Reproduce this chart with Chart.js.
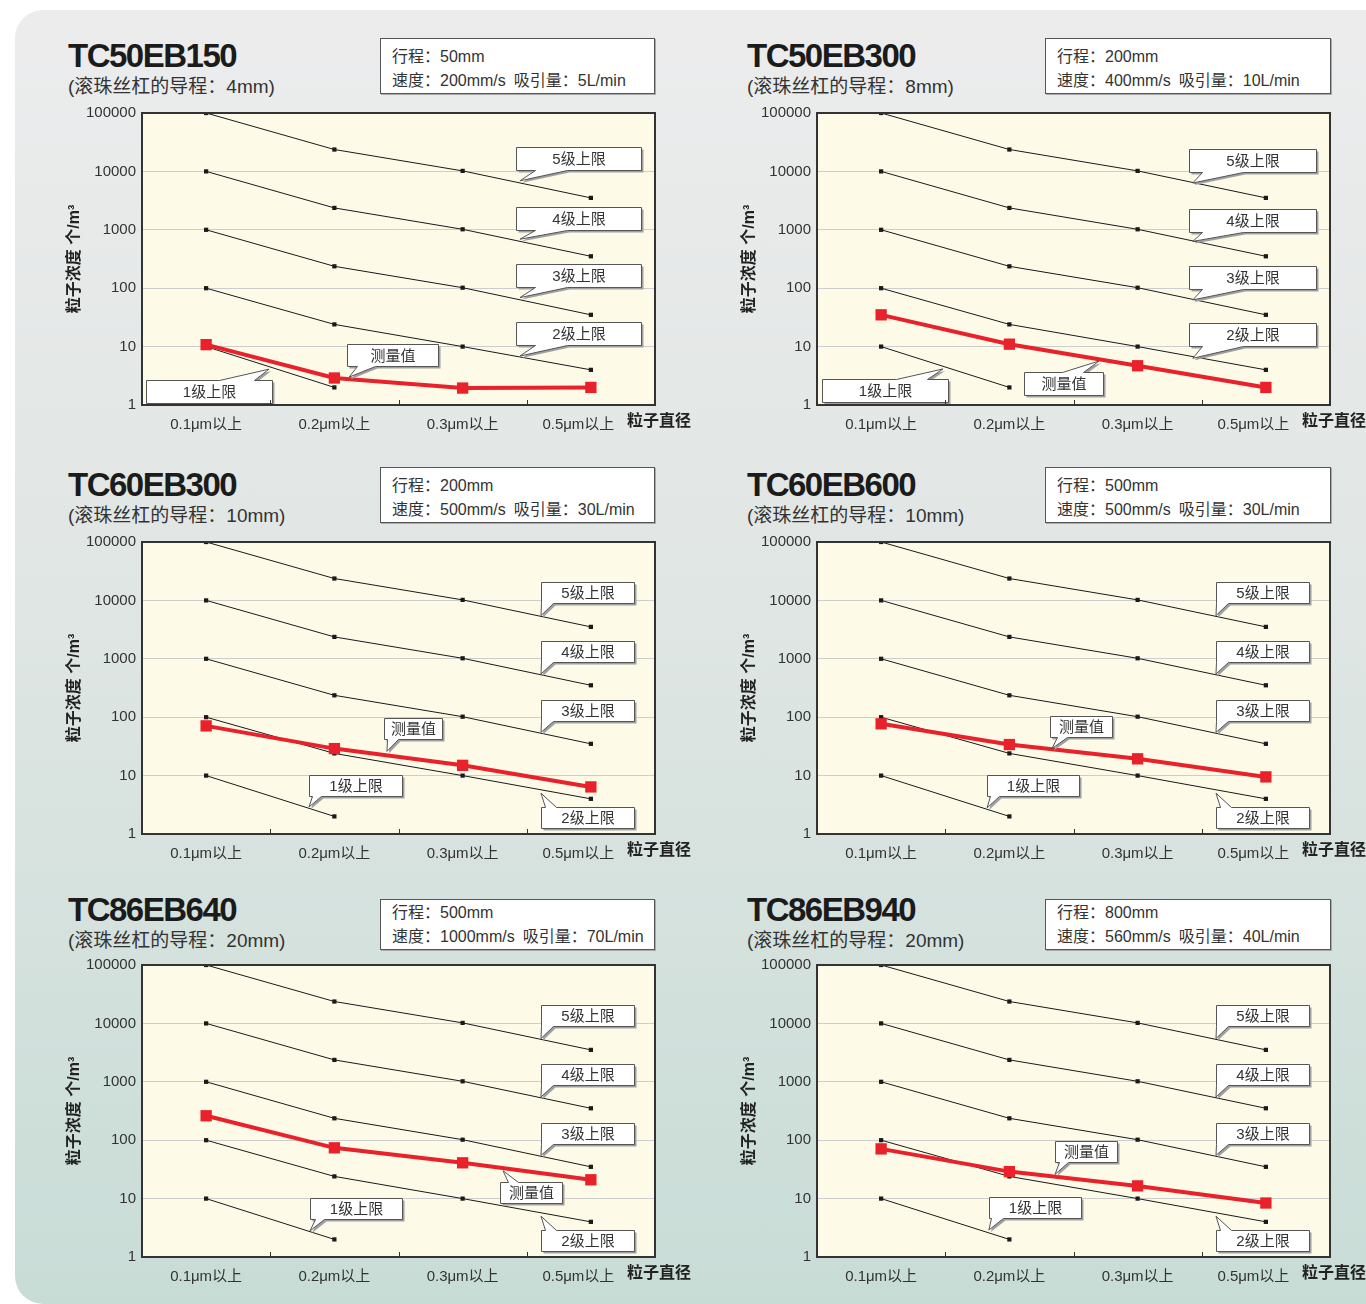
<!DOCTYPE html>
<html lang="zh">
<head>
<meta charset="UTF-8">
<title>TC 系列 粒子浓度</title>
<style>
  body { margin: 0; background: #fff; overflow: hidden; font-family: "Liberation Sans", "Noto Sans CJK SC", sans-serif; }
  #page { position: relative; width: 1366px; height: 1304px; overflow: hidden; }
  #bg { position: absolute; left: 15px; top: 10px; width: 1400px; height: 1294px; border-radius: 28px;
        background: linear-gradient(#ececed 0%, #e0e6e4 45%, #c8dcd6 100%); }
  .model { position: absolute; font-weight: bold; font-size: 33px; letter-spacing: -1.5px; line-height: 33px; color: #1b1b1b; white-space: nowrap; }
  .lead { position: absolute; font-size: 19px; line-height: 19px; color: #333; white-space: nowrap; }
  .info { position: absolute; box-sizing: border-box; background: #fff; border: 1px solid #555; box-shadow: 1px 1px 0 #aaa;
          font-size: 16px; line-height: 24px; color: #333; padding-left: 11px; white-space: nowrap; }
  canvas { position: absolute; }
</style>
</head>
<body>
<div id="page"><div id="bg"></div></div>
<script src="https://cdn.jsdelivr.net/npm/chart.js"></script>
<script>
// ---- data ----
var categories = ["0.1μm以上", "0.2μm以上", "0.3μm以上", "0.5μm以上"];
var yTicks = [1, 10, 100, 1000, 10000, 100000];

// ISO class upper limits
var class1 = [10, 2];
var class2 = [100, 24, 10, 4];
var class3 = [1000, 237, 102, 35];
var class4 = [10000, 2370, 1020, 352];
var class5 = [100000, 23700, 10200, 3520];

// measured values
var measTC50EB150 = [10.8, 2.9, 1.95, 2];
var measTC50EB300 = [35, 11, 4.7, 2];
var measTC60EB300 = [71, 29, 15, 6.4];
var measTC60EB600 = [77, 34, 19.4, 9.5];
var measTC86EB640 = [262, 74, 41, 21];
var measTC86EB940 = [71, 29, 16.5, 8.4];

var models = ["TC50EB150", "TC50EB300", "TC60EB300", "TC60EB600", "TC86EB640", "TC86EB940"];
var leads = ["4mm", "8mm", "10mm", "10mm", "20mm", "20mm"];
var strokes = ["50mm", "200mm", "200mm", "500mm", "500mm", "800mm"];
var speeds = ["200mm/s", "400mm/s", "500mm/s", "500mm/s", "1000mm/s", "560mm/s"];
var flows = ["5L/min", "10L/min", "30L/min", "30L/min", "70L/min", "40L/min"];
var measured = [measTC50EB150, measTC50EB300, measTC60EB300, measTC60EB600, measTC86EB640, measTC86EB940];

// ---- layout ----
var plotLeft = [142, 817];
var plotTop = [113, 542, 965];
var plotW = 513, plotH = 292;
var titleDx = [-74, -70];
var infoDx = [238, 228];
var infoW = [275, 286];
var titleDy = [-74, -74, -72];
var leadDy = [-36, -36, -34];
var infoDy = [-75, -75, -66];
var infoH = [56, 56, 51];
var infoPad = [6, 6, 1];

// callout labels, anchored in data space (category index, value)
function classBoxesSmall() {
  return [
    { text: "5级上限", i: 2.974, v: 13400, w: 93, h: 21, tip: [2.611, 5500], base: [0, 12] },
    { text: "4级上限", i: 2.974, v: 1333, w: 93, h: 21, tip: [2.611, 550], base: [0, 12] },
    { text: "3级上限", i: 2.974, v: 130, w: 93, h: 21, tip: [2.611, 55], base: [0, 12] },
    { text: "2级上限", i: 2.974, v: 1.95, w: 93, h: 21, tip: [2.611, 5.0], base: [4, 15] }
  ];
}
var callouts = [
  [
    { text: "5级上限", i: 2.904, v: 16600, w: 125, h: 23, tip: [2.447, 6900], base: [19, 51] },
    { text: "4级上限", i: 2.904, v: 1560, w: 125, h: 23, tip: [2.447, 690], base: [19, 51] },
    { text: "3级上限", i: 2.904, v: 162, w: 125, h: 23, tip: [2.447, 69], base: [19, 51] },
    { text: "2级上限", i: 2.904, v: 17, w: 125, h: 23, tip: [2.447, 6.9], base: [19, 51] },
    { text: "测量值", i: 1.453, v: 7.2, w: 91, h: 22, tip: [1.114, 3.0], base: [10, 28] },
    { text: "1级上限", i: 0.022, v: 1.7, w: 126, h: 23, tip: [0.49, 4.1], base: [73, 108] }
  ],
  [
    { text: "5级上限", i: 2.896, v: 15400, w: 127, h: 23, tip: [2.43, 6330], base: [13, 54] },
    { text: "4级上限", i: 2.896, v: 1430, w: 127, h: 23, tip: [2.43, 633], base: [13, 54] },
    { text: "3级上限", i: 2.896, v: 151, w: 127, h: 23, tip: [2.43, 63], base: [13, 54] },
    { text: "2级上限", i: 2.896, v: 15.8, w: 127, h: 23, tip: [2.43, 6.3], base: [13, 54] },
    { text: "测量值", i: 1.422, v: 2.33, w: 79, h: 23, tip: [1.70, 5.67], base: [38, 59] },
    { text: "1级上限", i: 0.03, v: 1.77, w: 126, h: 23, tip: [0.482, 4.14], base: [74, 105] }
  ],
  classBoxesSmall().concat([
    { text: "测量值", i: 1.613, v: 64, w: 58, h: 21, tip: [1.41, 26], base: [3, 14] },
    { text: "1级上限", i: 1.165, v: 6.8, w: 93, h: 21, tip: [0.802, 2.9], base: [3, 12] }
  ]),
  classBoxesSmall().concat([
    { text: "测量值", i: 1.555, v: 68, w: 62, h: 21, tip: [1.332, 29], base: [7, 17] },
    { text: "1级上限", i: 1.184, v: 6.77, w: 92, h: 21, tip: [0.826, 2.8], base: [3, 12] }
  ]),
  classBoxesSmall().concat([
    { text: "测量值", i: 2.533, v: 12.7, w: 62, h: 21, tip: [2.315, 30], base: [8, 18] },
    { text: "1级上限", i: 1.169, v: 6.8, w: 92, h: 21, tip: [0.81, 2.8], base: [5, 14] }
  ]),
  classBoxesSmall().concat([
    { text: "测量值", i: 1.598, v: 64, w: 62, h: 21, tip: [1.356, 26], base: [4, 13] },
    { text: "1级上限", i: 1.199, v: 7.04, w: 92, h: 21, tip: [0.84, 2.9], base: [2, 14] }
  ])
];

var FONT = '"Liberation Sans", "Noto Sans CJK SC", sans-serif';
Chart.defaults.font.family = FONT;

var framePlugin = {
  id: "frame",
  beforeDraw: function (chart) {
    var a = chart.chartArea, ctx = chart.ctx;
    ctx.save();
    ctx.fillStyle = "#fdfbe8";
    ctx.fillRect(a.left, a.top, a.right - a.left, a.bottom - a.top);
    ctx.restore();
  },
  afterDraw: function (chart) {
    var a = chart.chartArea, ctx = chart.ctx, x = chart.scales.x;
    ctx.save();
    ctx.strokeStyle = "#333";
    ctx.lineWidth = 2;
    ctx.strokeRect(a.left, a.top, a.right - a.left, a.bottom - a.top);
    ctx.lineWidth = 1;
    for (var k = 1; k < categories.length; k++) {
      var bx = Math.round((x.getPixelForValue(k - 1) + x.getPixelForValue(k)) / 2) + 0.5;
      ctx.beginPath();
      ctx.moveTo(bx, a.bottom);
      ctx.lineTo(bx, a.bottom - 5);
      ctx.stroke();
    }
    ctx.fillStyle = "#222";
    ctx.font = "bold 16px " + FONT;
    ctx.textAlign = "left";
    ctx.textBaseline = "middle";
    ctx.fillText("粒子直径", a.right - 28, a.bottom + 17);
    ctx.restore();
  }
};

var calloutPlugin = {
  id: "callouts",
  afterDatasetsDraw: function (chart, args, opts) {
    var ctx = chart.ctx, x = chart.scales.x, y = chart.scales.y;
    var step = x.getPixelForValue(1) - x.getPixelForValue(0);
    var px = function (i) { return x.getPixelForValue(0) + i * step; };
    ctx.save();
    ctx.font = "15px " + FONT;
    ctx.textAlign = "center";
    ctx.textBaseline = "middle";
    (opts.items || []).forEach(function (c) {
      var l = Math.round(px(c.i) - c.w / 2) + 0.5;
      var t = Math.round(y.getPixelForValue(c.v) - c.h / 2) + 0.5;
      var tx = px(c.tip[0]), ty = y.getPixelForValue(c.tip[1]);
      var below = ty > t + c.h;
      var path = function () {
        ctx.beginPath();
        ctx.moveTo(l, t);
        if (!below) { ctx.lineTo(l + c.base[0], t); ctx.lineTo(tx, ty); ctx.lineTo(l + c.base[1], t); }
        ctx.lineTo(l + c.w, t);
        ctx.lineTo(l + c.w, t + c.h);
        if (below) { ctx.lineTo(l + c.base[1], t + c.h); ctx.lineTo(tx, ty); ctx.lineTo(l + c.base[0], t + c.h); }
        ctx.lineTo(l, t + c.h);
        ctx.closePath();
      };
      ctx.save();
      ctx.translate(2, 2);
      path();
      ctx.fillStyle = "#a0a0a0";
      ctx.fill();
      ctx.restore();
      path();
      ctx.fillStyle = "#fff";
      ctx.fill();
      ctx.strokeStyle = "#555";
      ctx.lineWidth = 1;
      ctx.stroke();
      ctx.fillStyle = "#333";
      ctx.fillText(c.text, l + c.w / 2, t + c.h / 2 + 1);
    });
    ctx.restore();
  }
};

function limitSet(data) {
  return {
    data: data, order: 1,
    borderColor: "#1a1a1a", borderWidth: 1,
    pointStyle: "rect", pointRadius: 3, pointBorderWidth: 0,
    pointBackgroundColor: "#1a1a1a", tension: 0
  };
}

function chartConfig(p) {
  return {
    type: "line",
    data: {
      labels: categories,
      datasets: [
        {
          data: measured[p], order: 0,
          borderColor: "#e8212a", borderWidth: 4,
          pointStyle: "rect", pointRadius: 8, pointBorderWidth: 0,
          pointBackgroundColor: "#e8212a", tension: 0
        },
        limitSet(class5), limitSet(class4), limitSet(class3), limitSet(class2), limitSet(class1)
      ]
    },
    options: {
      responsive: false,
      animation: false,
      devicePixelRatio: 1,
      layout: { padding: { left: 0, right: 45, top: 12, bottom: 14 } },
      plugins: {
        legend: { display: false },
        tooltip: { enabled: false },
        callouts: { items: callouts[p] }
      },
      scales: {
        x: {
          type: "category",
          offset: true,
          grid: { display: false },
          border: { display: false },
          ticks: {
            color: "#333", font: { size: 15 }, padding: 3,
            maxRotation: 0, autoSkip: false,
            callback: function (v, idx) {
              var s = categories[idx];
              return idx === categories.length - 1 ? s + "      " : s;
            }
          },
          afterFit: function (s) { s.height = 28; }
        },
        y: {
          type: "logarithmic",
          min: 1, max: 100000,
          afterBuildTicks: function (s) { s.ticks = yTicks.map(function (v) { return { value: v }; }); },
          grid: { color: "#cdcdcd", lineWidth: 1, drawTicks: false },
          border: { display: false },
          ticks: { color: "#333", font: { size: 15 }, padding: 6, callback: function (v) { return String(v); } },
          title: { display: true, text: "粒子浓度 个/m³", color: "#222", font: { size: 16, weight: "bold" }, padding: { top: 3, bottom: 0 } },
          afterFit: function (s) { s.width = 80; }
        }
      }
    },
    plugins: [framePlugin, calloutPlugin]
  };
}

var page = document.getElementById("page");

// build a chart on a fresh canvas; the canvas is resized once so the plot area is plotW x plotH
function placeChart(p, L, T) {
  var w = 638, h = 346, chart, cv;
  for (var pass = 0; pass < 2; pass++) {
    cv = document.createElement("canvas");
    cv.width = w;
    cv.height = h;
    page.appendChild(cv);
    chart = new Chart(cv, chartConfig(p));
    var a = chart.chartArea;
    var dw = plotW - (a.right - a.left), dh = plotH - (a.bottom - a.top);
    if (pass === 0 && (Math.abs(dw) > 0.5 || Math.abs(dh) > 0.5)) {
      chart.destroy();
      cv.remove();
      w += Math.round(dw);
      h += Math.round(dh);
      continue;
    }
    break;
  }
  cv.style.left = Math.round(L - chart.chartArea.left) + "px";
  cv.style.top = Math.round(T - chart.chartArea.top) + "px";
}

models.forEach(function (model, p) {
  var col = p % 2, row = Math.floor(p / 2);
  var L = plotLeft[col], T = plotTop[row];

  var title = document.createElement("div");
  title.className = "model";
  title.style.left = (L + titleDx[col]) + "px";
  title.style.top = (T + titleDy[row]) + "px";
  title.textContent = model;
  page.appendChild(title);

  var lead = document.createElement("div");
  lead.className = "lead";
  lead.style.left = (L + titleDx[col]) + "px";
  lead.style.top = (T + leadDy[row]) + "px";
  lead.textContent = "(滚珠丝杠的导程：" + leads[p] + ")";
  page.appendChild(lead);

  var info = document.createElement("div");
  info.className = "info";
  info.style.left = (L + infoDx[col]) + "px";
  info.style.top = (T + infoDy[row]) + "px";
  info.style.width = infoW[col] + "px";
  info.style.height = infoH[row] + "px";
  info.style.paddingTop = infoPad[row] + "px";
  info.innerHTML = "行程：" + strokes[p] + "<br>速度：" + speeds[p] + "&ensp;吸引量：" + flows[p];
  page.appendChild(info);

  placeChart(p, L, T);
});
</script>
</body>
</html>
